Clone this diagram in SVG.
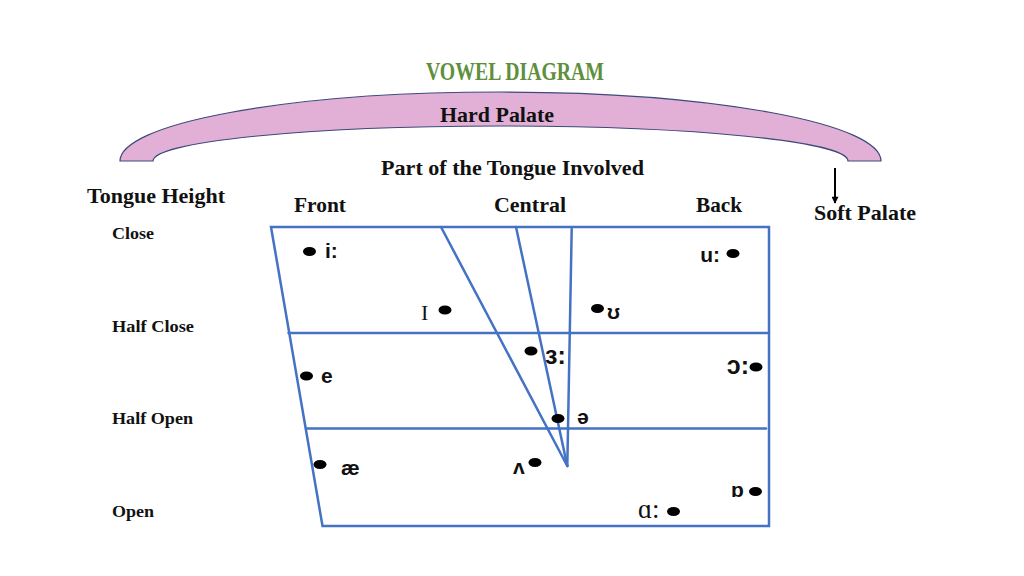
<svg xmlns="http://www.w3.org/2000/svg" width="1024" height="576" viewBox="0 0 1024 576">
<defs>
<style>
.lbl{font-family:"Liberation Serif","Times New Roman",serif;font-weight:bold;fill:#111;}
.big{font-size:21px;}
.sm{font-size:17px;}
.v{font-family:"Liberation Sans","DejaVu Sans",sans-serif;font-weight:bold;font-size:21px;fill:#111;}
.vl{font-family:"Liberation Sans","DejaVu Sans",sans-serif;font-weight:bold;font-size:25px;fill:#111;}
.vs{font-family:"Liberation Serif","DejaVu Serif",serif;font-size:22px;fill:#111;}
.ln{stroke:#4472c4;stroke-width:2.5;fill:none;stroke-linecap:round;}
.dot{fill:#000;}
</style>
<marker id="ah" viewBox="0 0 10 10" refX="9" refY="5" markerWidth="8" markerHeight="7" orient="auto" markerUnits="userSpaceOnUse">
<path d="M0,0 L10,5 L0,10 z" fill="#000"/>
</marker>
</defs>
<rect width="1024" height="576" fill="#fff"/>

<g id="title">
<text x="515" y="80" text-anchor="middle" textLength="178" lengthAdjust="spacingAndGlyphs" style="font-family:'Liberation Serif',serif;font-weight:bold;font-size:25px;fill:#5e8f3c;">VOWEL DIAGRAM</text>
</g>

<g id="hard-palate">
<path d="M120,161 A380.5,69 0 0 1 881,161 L848,161 A347.5,35 0 0 0 153,161 Z" fill="#e2b0d6" stroke="#3c4a7c" stroke-width="1.2"/>
<text class="lbl big" x="440" y="122" textLength="114" lengthAdjust="spacingAndGlyphs">Hard Palate</text>
</g>

<g id="soft-palate">
<text class="lbl big" x="814" y="220" textLength="102" lengthAdjust="spacingAndGlyphs">Soft Palate</text>
</g>

<g id="headers">
<text class="lbl big" x="381" y="175" textLength="263" lengthAdjust="spacingAndGlyphs">Part of the Tongue Involved</text>
<text class="lbl big" x="87" y="203" textLength="138" lengthAdjust="spacingAndGlyphs">Tongue Height</text>
<text class="lbl big" x="294" y="212" textLength="52" lengthAdjust="spacingAndGlyphs">Front</text>
<text class="lbl big" x="494" y="212" textLength="72" lengthAdjust="spacingAndGlyphs">Central</text>
<text class="lbl big" x="696" y="212" textLength="46" lengthAdjust="spacingAndGlyphs">Back</text>
<text class="lbl sm" x="112" y="239" textLength="42" lengthAdjust="spacingAndGlyphs">Close</text>
<text class="lbl sm" x="112" y="332" textLength="82" lengthAdjust="spacingAndGlyphs">Half Close</text>
<text class="lbl sm" x="112" y="424" textLength="81" lengthAdjust="spacingAndGlyphs">Half Open</text>
<text class="lbl sm" x="112" y="517" textLength="42" lengthAdjust="spacingAndGlyphs">Open</text>
</g>

<g id="chart">
<path class="ln" d="M271,227 L769,227 L769,526 L322.5,526 Z"/>
<line class="ln" x1="288.5" y1="333" x2="769" y2="333"/>
<line class="ln" x1="306" y1="428.5" x2="766" y2="428.5"/>
</g>

<g id="connectors">
<line class="ln" x1="441" y1="227" x2="567.3" y2="466"/>
<line class="ln" x1="516" y1="227" x2="567.3" y2="466"/>
<line class="ln" x1="571.7" y1="229" x2="567.3" y2="466"/>
<line x1="835" y1="168" x2="835" y2="203" stroke="#000" stroke-width="2" marker-end="url(#ah)"/>
</g>

<g id="vowel-i-long"><ellipse class="dot" cx="309.5" cy="251.5" rx="6.5" ry="4.5"/><text class="v" x="325" y="258">i:</text></g>
<g id="vowel-u-long"><ellipse class="dot" cx="733" cy="253.5" rx="6.5" ry="4.5"/><text class="v" x="720" y="262" text-anchor="end">u:</text></g>
<g id="vowel-I"><ellipse class="dot" cx="445" cy="310" rx="6.5" ry="4.5"/><text class="vs" x="421" y="320">I</text></g>
<g id="vowel-upsilon"><ellipse class="dot" cx="597.5" cy="308.5" rx="6.5" ry="4.5"/><text class="v" x="607" y="319">ʊ</text></g>
<g id="vowel-er"><ellipse class="dot" cx="531" cy="351" rx="6.5" ry="4.5"/><text class="vl" x="545" y="364">ɜ:</text></g>
<g id="vowel-o-long"><ellipse class="dot" cx="756" cy="367" rx="6.5" ry="4.5"/><text class="vl" x="749" y="374" text-anchor="end">ɔ:</text></g>
<g id="vowel-e"><ellipse class="dot" cx="306.5" cy="376" rx="6.5" ry="4.5"/><text class="v" x="321" y="383">e</text></g>
<g id="vowel-schwa"><ellipse class="dot" cx="558" cy="418.5" rx="6.5" ry="4.5"/><text class="v" x="577" y="424">ə</text></g>
<g id="vowel-ae"><ellipse class="dot" cx="320" cy="464.5" rx="6.5" ry="4.5"/><text class="v" x="341" y="475">æ</text></g>
<g id="vowel-wedge"><ellipse class="dot" cx="535" cy="462.5" rx="6.5" ry="4.5"/><text class="v" x="513" y="474">ʌ</text></g>
<g id="vowel-o-short"><ellipse class="dot" cx="755.5" cy="491.5" rx="6.5" ry="4.5"/><text class="v" x="731" y="497">ɒ</text></g>
<g id="vowel-a-long"><ellipse class="dot" cx="673.5" cy="511.5" rx="6.5" ry="4.5"/><text class="vs" x="638" y="518" style="font-size:27px;">ɑ:</text></g>
</svg>
